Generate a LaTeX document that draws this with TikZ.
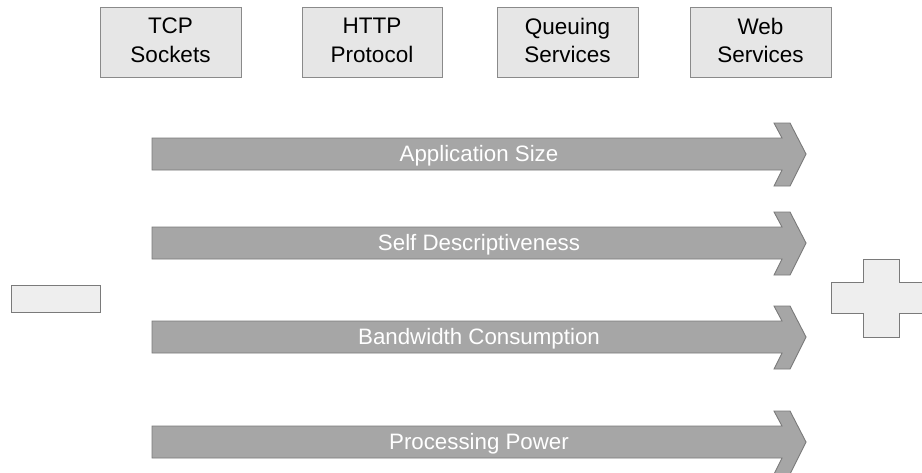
\documentclass[tikz,border=0pt]{standalone}
\usepackage{fontspec}
\setmainfont{Liberation Sans}
\begin{document}
\begin{tikzpicture}[x=1pt,y=-1pt,
  topbox/.style={draw=boxline,fill=boxfill,line width=0.9pt},
  toptext/.style={align=center,font=\fontsize{22.5}{28.5}\selectfont,text=black,inner sep=0pt},
  arrowshape/.style={draw=arrline,fill=arrfill,line width=0.9pt,line join=miter},
  arrtext/.style={font=\fontsize{22.3}{26}\selectfont,text=white,inner sep=0pt},
  signshape/.style={draw=signline,fill=signfill,line width=0.9pt}]
\definecolor{boxfill}{HTML}{E6E6E6}
\definecolor{boxline}{HTML}{8A8A8A}
\definecolor{arrfill}{HTML}{A6A6A6}
\definecolor{arrline}{HTML}{7A7A7A}
\definecolor{signfill}{HTML}{EEEEEE}
\definecolor{signline}{HTML}{7A7A7A}
\useasboundingbox[fill=white] (0,0) rectangle (922,472);
\clip (0,0) rectangle (922,472);
% top boxes
\draw[topbox] (100,7) rectangle (241,77);
\node[toptext] (tcp) at (170.5,40.5) {TCP\\Sockets};
\draw[topbox] (302,7) rectangle (442,77);
\node[toptext] (http) at (372,40.5) {HTTP\\Protocol};
\draw[topbox] (497,7) rectangle (638,77);
\node[toptext] (queue) at (567.5,40.5) {Queuing\\Services};
\draw[topbox] (690,7) rectangle (831,77);
\node[toptext] (web) at (760.5,40.5) {Web\\Services};
% arrows
\foreach \c/\lab/\nm in {154/Application Size/a1, 243/Self Descriptiveness/a2, 337/Bandwidth Consumption/a3, 442/Processing Power/a4}{
  \draw[arrowshape] (152,\c-16) -- (782,\c-16) -- (774,\c-31) -- (790,\c-31) -- (806,\c)
     -- (790,\c+32) -- (774,\c+32) -- (782,\c+16) -- (152,\c+16) -- cycle;
  \node[arrtext] (\nm) at (479,\c+1.5) {\lab};
}
% minus sign
\draw[signshape] (11,285) rectangle (100,312);
\node[inner sep=0pt] (minus) at (55.5,298.5) {};
% plus sign
\draw[signshape] (863,259) -- (899,259) -- (899,282) -- (931,282) -- (931,313) -- (899,313)
  -- (899,337) -- (863,337) -- (863,313) -- (831,313) -- (831,282) -- (863,282) -- cycle;
\node[inner sep=0pt] (plus) at (881,298) {};
\end{tikzpicture}
\end{document}
